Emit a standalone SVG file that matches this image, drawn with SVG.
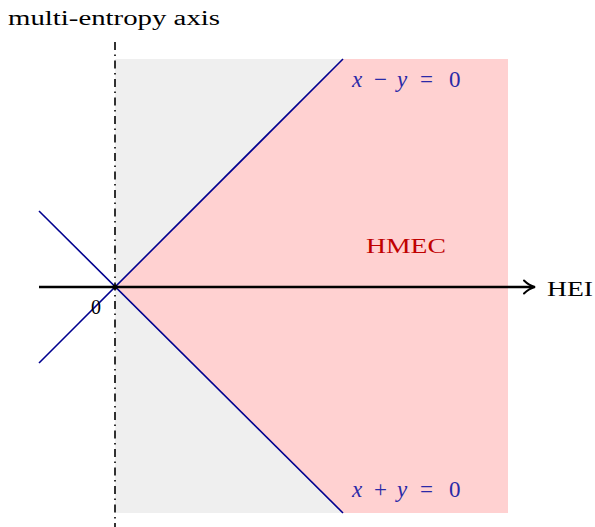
<svg xmlns="http://www.w3.org/2000/svg" width="595" height="527" viewBox="0 0 595 527">
<style>
.t{font-family:"Liberation Serif",serif;font-size:20px}
.m{fill:#2a2aa8;font-size:23px}
.bl{stroke:#00008f;stroke-width:1.6;fill:none}
</style>
<rect width="595" height="527" fill="#ffffff"/>
<g id="regions">
<rect id="gray-region" x="115" y="59" width="393" height="454" fill="#efefef"/>
<polygon id="hmec-region" points="115,287 343,59 508,59 508,513 343,513" fill="#ffd1d1"/>
</g>
<g id="connectors">
<line id="multi-entropy-axis" x1="115" y1="42" x2="115" y2="527" stroke="#000" stroke-width="1.6" stroke-dasharray="8,4.5,1.5,4.5"/>
<line id="line-x-minus-y" class="bl" x1="39" y1="363" x2="343" y2="59"/>
<line id="line-x-plus-y" class="bl" x1="39" y1="211" x2="343" y2="513"/>
<line id="hei-axis" x1="39" y1="287" x2="532" y2="287" stroke="#000" stroke-width="2.4"/>
<path d="M524,280.5 Q529,285.5 535,287 Q529,288.5 524,293.5" fill="none" stroke="#000" stroke-width="2" stroke-linecap="round"/>
<circle cx="115" cy="287" r="2.6" fill="#000"/>
</g>
<g id="label-axis"><text class="t" x="8" y="25" textLength="212" lengthAdjust="spacingAndGlyphs">multi-entropy axis</text></g>
<g id="label-hei"><text class="t" x="547" y="296" textLength="46" lengthAdjust="spacingAndGlyphs">HEI</text></g>
<g id="label-zero"><text class="t" x="91" y="314" font-size="21">0</text></g>
<g id="label-hmec"><text class="t" x="366" y="253" fill="#c00000" textLength="80" lengthAdjust="spacingAndGlyphs">HMEC</text></g>
<g id="label-xmy"><text class="t m" y="87"><tspan x="352" font-style="italic">x</tspan><tspan x="374">−</tspan><tspan x="397" font-style="italic">y</tspan><tspan x="420">=</tspan><tspan x="449">0</tspan></text></g>
<g id="label-xpy"><text class="t m" y="497"><tspan x="352" font-style="italic">x</tspan><tspan x="374">+</tspan><tspan x="397" font-style="italic">y</tspan><tspan x="420">=</tspan><tspan x="449">0</tspan></text></g>
</svg>
